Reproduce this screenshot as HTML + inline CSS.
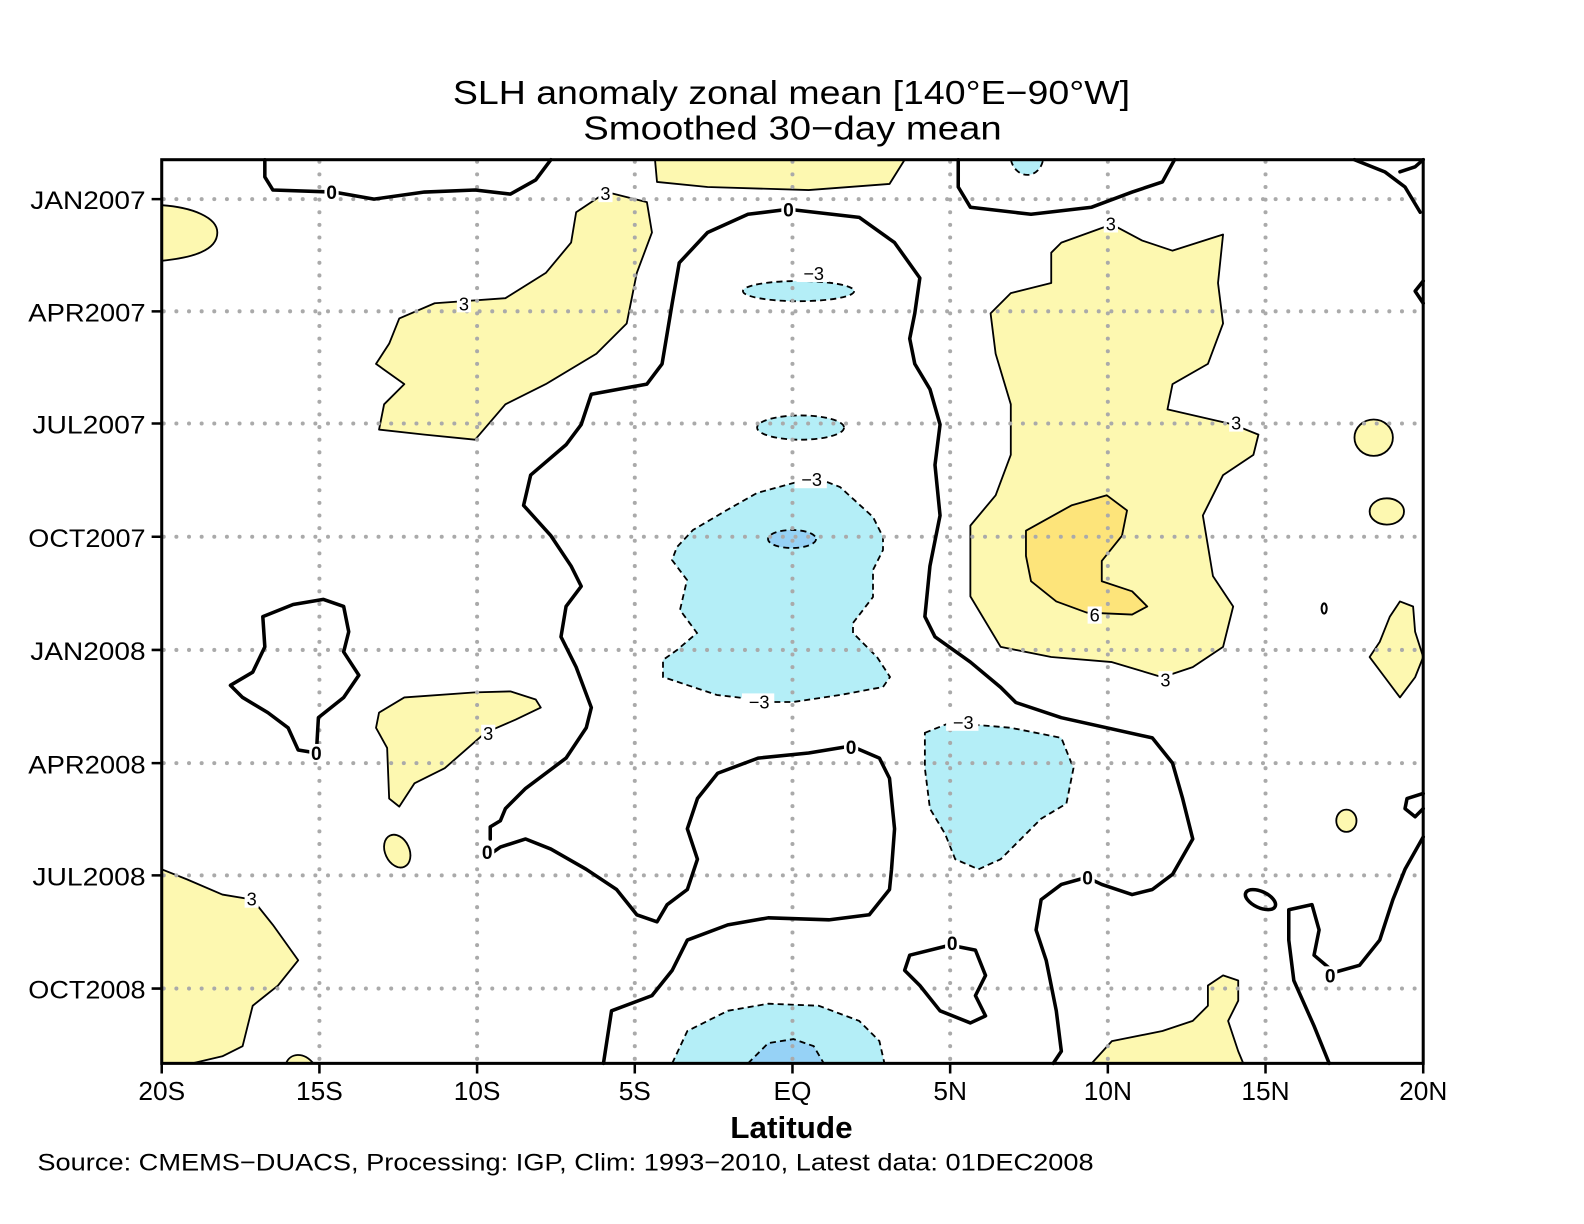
<!DOCTYPE html>
<html><head><meta charset="utf-8"><style>html,body{margin:0;padding:0;background:#fff}svg{display:block}</style></head>
<body>
<svg width="1584" height="1224" viewBox="0 0 1584 1224" xmlns="http://www.w3.org/2000/svg">
<rect width="1584" height="1224" fill="#fff"/>
<g transform="scale(1.0108)" font-family="'Liberation Sans',sans-serif">
<g fill="#fdf8b0" stroke="#000" stroke-width="1.8" stroke-linejoin="round">
<path d="M160,203 C190,205 215,215 215,230 C215,248 190,255 160,258 Z"/>
<polygon points="600,190 640,200 645,230 630,270 620,320 590,350 540,380 500,400 470,435 420,430 375,425 380,400 400,380 372,360 385,340 395,315 430,300 500,295 540,270 565,240 570,210"/>
<polygon points="1050,240 1100,222 1130,238 1160,248 1210,232 1205,280 1210,320 1195,360 1160,380 1155,405 1220,420 1245,430 1240,450 1210,470 1190,510 1200,570 1220,600 1210,640 1180,660 1150,670 1100,655 1040,650 990,640 960,590 960,520 985,490 1000,450 1000,400 985,350 980,310 1000,290 1040,280 1040,250"/>
<polygon fill="#fde47a" points="1015,525 1060,500 1095,490 1115,505 1110,530 1090,555 1090,575 1120,585 1135,600 1120,608 1075,606 1045,595 1020,575 1015,550"/>
<polygon points="375,705 400,690 470,685 505,684 530,692 535,700 510,712 480,725 440,760 410,775 395,798 385,790 383,740 372,720"/>
<ellipse cx="393" cy="842" rx="12" ry="17" transform="rotate(-25 393 842)"/>
<polygon points="160,860 185,870 220,885 250,890 270,915 295,950 275,975 250,995 240,1035 220,1045 190,1052 160,1052"/>
<path d="M283,1052 C287,1042 300,1040 310,1052 Z"/>
<path d="M648,158 L895,158 L880,182 L800,188 L700,185 L650,180 Z"/>
<polygon points="1080,1052 1100,1030 1150,1020 1180,1010 1195,995 1195,975 1210,965 1225,970 1225,990 1215,1010 1225,1040 1230,1052"/>
<ellipse cx="1359" cy="433" rx="19" ry="18"/>
<ellipse cx="1372" cy="506" rx="17" ry="13"/>
<ellipse cx="1332" cy="812" rx="10" ry="11"/>
<polygon points="1385,595 1398,600 1400,625 1408,650 1400,670 1385,690 1370,670 1355,650 1365,635 1375,610"/>
</g>
<g fill="#b4eef7" stroke="#000" stroke-width="1.8" stroke-dasharray="6 4">
<ellipse cx="790" cy="288" rx="55" ry="10"/>
<ellipse cx="792" cy="423" rx="43" ry="12"/>
<polygon points="915,725 940,715 1000,720 1050,730 1062,760 1055,795 1030,810 1010,830 990,850 968,860 945,850 935,825 920,800 915,760"/>
<path d="M665,1052 L680,1020 720,1000 760,993 810,995 850,1010 870,1030 875,1052 Z"/>
<path d="M740,1052 L760,1032 785,1028 805,1035 815,1052 Z" fill="#96d2f6"/>
<path d="M1000,158 C1005,178 1028,178 1032,158 Z"/>
</g>
</g>
<g fill="#b4eef7" stroke="#000" stroke-width="1.8" stroke-dasharray="6 4">
<polygon points="797,482 827,482 840,487 873,517 883,537 883,550 873,570 873,597 853,623 853,633 877,657 890,677 883,687 840,695 793,702 770,702 743,698 717,695 663,677 663,660 677,650 697,633 680,610 687,580 672,560 677,547 693,530 727,510 757,493"/>
<ellipse cx="792" cy="539" rx="24" ry="9" fill="#96d2f6"/>
</g>
<g transform="scale(1.0108)" font-family="'Liberation Sans',sans-serif">
<g stroke="#aaa" stroke-width="4" stroke-dasharray="0 12.5" stroke-linecap="round">
<path d="M316,160V1050M472,160V1050M628,160V1050M784,160V1050M940,160V1050M1096,160V1050M1252,160V1050"/>
<path d="M162,197H1406M162,308H1406M162,419H1406M162,531H1406M162,643H1406M162,755H1406M162,866H1406M162,978H1406"/>
</g>
<g fill="none" stroke="#000" stroke-width="3.5" stroke-linejoin="round" stroke-linecap="round">
<polyline points="262,158 262,175 270,188 330,190 370,197 420,190 470,188 505,192 530,178 545,158"/>
<polyline points="485,830 485,818 495,812 500,800 520,780 560,750 580,720 585,700 570,660 555,630 560,600 575,580 565,560 545,530 518,500 525,470 560,440 575,420 585,390 640,380 655,360 660,330 665,300 672,260 700,230 740,212 780,207 850,215 885,240 910,275 905,310 900,335 905,360 920,385 930,420 925,460 930,510 920,560 915,610 925,630 960,655 990,680 1005,695 1050,710 1140,730 1160,755 1170,790 1180,830 1160,865 1140,880 1120,885 1090,875 1075,868 1050,875 1030,890 1025,920 1035,950 1045,1000 1050,1040 1042,1052"/>
<polyline points="485,835 485,845 495,838 520,830 545,840 580,860 610,880 630,905 650,912 660,895 680,880 690,850 680,820 690,790 710,765 750,750 800,745 842,738 870,750 880,770 885,820 882,860 880,880 860,905 820,910 760,908 720,915 680,930 665,960 645,985 605,1000 597,1052"/>
<polyline points="948,158 948,185 960,205 1020,212 1080,205 1120,190 1150,180 1162,158"/>
<polyline points="1340,158 1370,170 1390,185 1405,210"/>
<polyline points="1385,170 1400,165 1408,158"/>
<polyline points="1408,278 1400,288 1408,300"/>
<polygon points="228,678 250,665 262,640 260,610 290,598 320,593 340,600 345,625 340,645 355,668 340,690 315,710 313,745 295,742 285,720 265,705 240,690"/>
<polygon points="900,945 940,935 965,940 975,965 965,985 975,1005 960,1012 930,1000 910,975 895,960"/>
<ellipse cx="1247" cy="890" rx="16" ry="8" transform="rotate(25 1247 890)"/>
<polyline points="1315,1052 1300,1015 1280,970 1275,930 1275,900 1298,895 1305,920 1300,945 1320,962 1345,955 1365,930 1378,890 1390,860 1408,828"/>
<polyline points="1408,785 1392,790 1390,800 1400,808 1408,800"/>
<ellipse cx="1310" cy="602" rx="2.5" ry="5" stroke-width="2"/>
</g>
<g font-size="18" text-anchor="middle">
<g fill="#fff"><rect x="321" y="181" width="14" height="18"/><rect x="773" y="198" width="14" height="18"/><rect x="475" y="833" width="14" height="20"/><rect x="835" y="729" width="14" height="20"/><rect x="935" y="924" width="14" height="18"/><rect x="1069" y="859" width="14" height="18"/><rect x="1309" y="956" width="14" height="18"/><rect x="306" y="736" width="14" height="18"/></g>
<g font-weight="bold" font-size="19"><text x="328" y="197">0</text><text x="780" y="214">0</text><text x="482" y="850">0</text><text x="842" y="746">0</text><text x="942" y="940">0</text><text x="1076" y="875">0</text><text x="1316" y="972">0</text><text x="313" y="752">0</text></g>
<g fill="#fff"><rect x="592" y="183" width="14" height="17"/><rect x="452" y="292" width="14" height="17"/><rect x="1092" y="213" width="14" height="17"/><rect x="1216" y="410" width="14" height="17"/><rect x="1146" y="664" width="14" height="17"/><rect x="1076" y="600" width="14" height="17"/><rect x="476" y="717" width="14" height="17"/><rect x="242" y="881" width="14" height="17"/><rect x="788" y="262" width="32" height="17"/><rect x="786" y="466" width="32" height="17"/><rect x="734" y="686" width="32" height="17"/><rect x="936" y="706" width="32" height="17"/></g>
<text x="599" y="198">3</text><text x="459" y="307">3</text><text x="1099" y="228">3</text><text x="1223" y="425">3</text><text x="1153" y="679">3</text><text x="1083" y="615">6</text><text x="483" y="732">3</text><text x="249" y="896">3</text>
<text x="805" y="277">−3</text><text x="803" y="481">−3</text><text x="751" y="701">−3</text><text x="953" y="721">−3</text>
</g>
<rect x="160" y="158" width="1248" height="894" fill="none" stroke="#000" stroke-width="3"/>
<g stroke="#000" stroke-width="2.5"><path d="M150,197H160M150,308H160M150,419H160M150,531H160M150,643H160M150,755H160M150,866H160M150,978H160"/><path d="M160,1052V1062M316,1052V1062M472,1052V1062M628,1052V1062M784,1052V1062M940,1052V1062M1096,1052V1062M1252,1052V1062M1408,1052V1062"/></g>
<g font-size="25" text-anchor="end"><text x="144" y="207" textLength="114" lengthAdjust="spacingAndGlyphs">JAN2007</text><text x="144" y="318" textLength="116" lengthAdjust="spacingAndGlyphs">APR2007</text><text x="144" y="429" textLength="112" lengthAdjust="spacingAndGlyphs">JUL2007</text><text x="144" y="541" textLength="116" lengthAdjust="spacingAndGlyphs">OCT2007</text><text x="144" y="653" textLength="114" lengthAdjust="spacingAndGlyphs">JAN2008</text><text x="144" y="765" textLength="116" lengthAdjust="spacingAndGlyphs">APR2008</text><text x="144" y="876" textLength="112" lengthAdjust="spacingAndGlyphs">JUL2008</text><text x="144" y="988" textLength="116" lengthAdjust="spacingAndGlyphs">OCT2008</text></g>
<g font-size="26" text-anchor="middle"><text x="160" y="1088">20S</text><text x="316" y="1088">15S</text><text x="472" y="1088">10S</text><text x="628" y="1088">5S</text><text x="784" y="1088">EQ</text><text x="940" y="1088">5N</text><text x="1096" y="1088">10N</text><text x="1252" y="1088">15N</text><text x="1408" y="1088">20N</text></g>
<text x="783" y="1126" font-size="30" font-weight="bold" text-anchor="middle" textLength="121" lengthAdjust="spacingAndGlyphs">Latitude</text>
<g font-size="33" text-anchor="middle"><text x="783" y="103" textLength="670" lengthAdjust="spacingAndGlyphs">SLH anomaly zonal mean [140°E−90°W]</text><text x="784" y="138" textLength="414" lengthAdjust="spacingAndGlyphs">Smoothed 30−day mean</text></g>
<text x="37" y="1158" font-size="24" textLength="1045" lengthAdjust="spacingAndGlyphs">Source: CMEMS−DUACS, Processing: IGP, Clim: 1993−2010, Latest data: 01DEC2008</text>
</g>
</svg>
</body></html>
